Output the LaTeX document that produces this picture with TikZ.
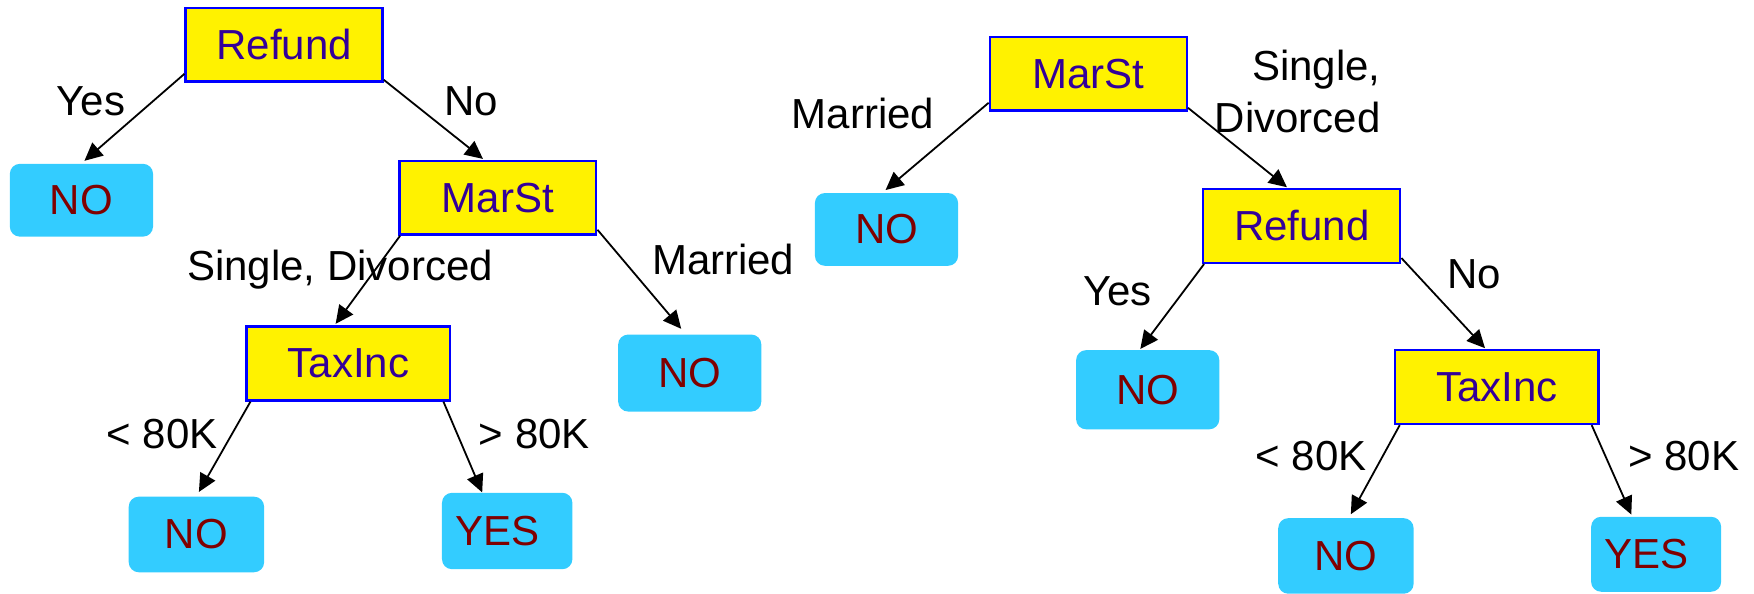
\documentclass[tikz,border=0pt]{standalone}
\usepackage{fontspec}
\setmainfont{Liberation Sans}
\usetikzlibrary{arrows.meta}

\begin{document}
\begin{tikzpicture}[x=0.5594pt,y=-0.5594pt,
  every node/.style={font=\fontsize{21}{25.8}\selectfont},
  test/.style={draw=testborder,line width=1.2pt,fill=yellow,text=testtext,
    inner sep=0pt,minimum width=98.5pt,minimum height=36.9pt},
  leaf/.style={fill=leafcyan,rounded corners=5pt,text=leafred,
    inner sep=0pt,minimum width=71.6pt,minimum height=36.4pt},
  lbl/.style={anchor=base,inner sep=0pt},
  edge/.style={-{Triangle[length=9pt,width=8.5pt]},line width=0.9pt}]
\definecolor{testborder}{HTML}{0000FF}
\definecolor{testtext}{HTML}{330099}
\definecolor{leafcyan}{HTML}{33CCFF}
\definecolor{leafred}{HTML}{800000}
\useasboundingbox (0,0) rectangle (1568,531);

% first tree
\node[test] (refA) at (254,40) {Refund};
\node[leaf] (noA) at (72.8,179) {NO};
\node[test] (marA) at (445,176.7) {MarSt};
\node[test,minimum width=101.8pt] (taxA) at (311.5,325) {TaxInc};
\node[leaf,minimum height=38.5pt] (noB) at (616.6,333.5) {NO};
\node[leaf,minimum width=67.7pt,minimum height=37.8pt] (noC) at (175.6,477.8) {NO};
\node[leaf,minimum width=65.2pt,minimum height=38.2pt] (yesA) at (453.4,474.7) {YES\hspace*{10pt}};

\draw[edge,shorten >=2pt] ([yshift=4.5pt]refA.south west) -- (noA.north);
\draw[edge,shorten >=0.5pt] ([yshift=1.5pt]refA.south east) -- ([xshift=-7pt]marA.north);
\draw[edge,shorten >=1pt] ([xshift=1pt]marA.south west) -- ([xshift=-7pt]taxA.north);
\draw[edge,shorten >=3.5pt] ([yshift=3pt]marA.south east) -- ([xshift=-2pt]noB.north);
\draw[edge,shorten >=2.5pt] ([xshift=2.5pt]taxA.south west) -- (noC.north);
\draw[edge] ([xshift=-4pt]taxA.south east) -- ([xshift=-12.5pt]yesA.north);

\node[lbl] (yesLa) at (81.3,103) {Yes};
\node[lbl] (noLa) at (421.4,103) {No};
\node[lbl] (sdLa) at (304,251.2) {Single, Divorced};
\node[lbl] (marLa) at (646.5,245.8) {Married};
\node[lbl] (ltLa) at (144.8,400.5) {< 80K};
\node[lbl] (gtLa) at (477.7,400.5) {> 80K};

% second tree
\node[test] (marB) at (972.9,65.9) {MarSt};
\node[leaf] (noD) at (792.5,205.1) {NO};
\node[test] (refB) at (1163.7,202) {Refund};
\node[leaf,minimum height=39.6pt] (noE) at (1026,348.4) {NO};
\node[test,minimum width=101.8pt] (taxB) at (1338,346) {TaxInc};
\node[leaf,minimum width=67.7pt,minimum height=37.8pt] (noF) at (1203.2,497) {NO};
\node[leaf,minimum width=65pt,minimum height=37.5pt] (yesB) at (1480.5,495.5) {YES\hspace*{10pt}};

\draw[edge,shorten >=2pt] ([yshift=4.5pt]marB.south west) -- ([xshift=-2pt]noD.north);
\draw[edge,shorten >=0.5pt] ([yshift=2pt]marB.south east) -- ([xshift=-7pt]refB.north);
\draw[edge,shorten >=0.5pt] ([xshift=1pt]refB.south west) -- ([xshift=-4pt]noE.north);
\draw[edge,shorten >=0.5pt] ([yshift=3pt]refB.south east) -- ([xshift=-5.5pt]taxB.north);
\draw[edge,shorten >=2pt] ([xshift=3pt]taxB.south west) -- ([xshift=1.5pt]noF.north);
\draw[edge,shorten >=1pt] ([xshift=-4pt]taxB.south east) -- ([xshift=-12pt]yesB.north);

\node[lbl] (marLb) at (771.6,114.7) {Married};
\node[anchor=north east,inner sep=0pt,align=right] (sdLb) at (1234.6,44.5) {Single,\\Divorced};
\node[lbl] (yesLb) at (998.9,272.7) {Yes};
\node[lbl] (noLb) at (1317.6,257.8) {No};
\node[lbl] (ltLb) at (1172,420.2) {< 80K};
\node[lbl] (gtLb) at (1505.3,420.2) {> 80K};
\end{tikzpicture}
\end{document}
